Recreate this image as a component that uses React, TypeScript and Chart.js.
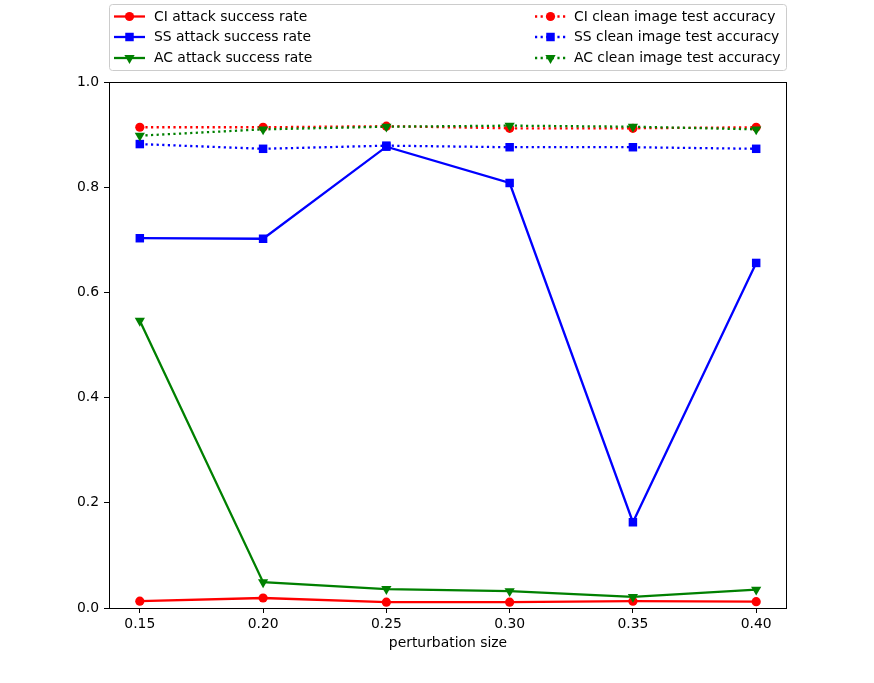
import { useEffect, useRef } from "react";
import { Chart, registerables, type Plugin } from "chart.js";

Chart.register(...registerables);

const perturbation = [0.15, 0.2, 0.25, 0.3, 0.35, 0.4];
const xTicks = [0.15, 0.2, 0.25, 0.3, 0.35, 0.4];
const yTicks = [0, 0.2, 0.4, 0.6, 0.8, 1.0];

const ciAttack = [0.013, 0.019, 0.011, 0.011, 0.013, 0.012];
const ssAttack = [0.703, 0.702, 0.877, 0.808, 0.163, 0.656];
const acAttack = [0.546, 0.049, 0.036, 0.032, 0.021, 0.035];
const ciClean = [0.914, 0.914, 0.916, 0.912, 0.912, 0.914];
const ssClean = [0.882, 0.873, 0.879, 0.876, 0.876, 0.873];
const acClean = [0.898, 0.910, 0.915, 0.917, 0.915, 0.910];

const FONT = "'DejaVu Sans', sans-serif";
const FONT_SIZE = 13.9;

type Series = {
  label: string;
  values: number[];
  color: string;
  marker: "circle" | "rect" | "triangle";
  dotted: boolean;
};

const series: Series[] = [
  { label: "CI attack success rate", values: ciAttack, color: "#ff0000", marker: "circle", dotted: false },
  { label: "SS attack success rate", values: ssAttack, color: "#0000ff", marker: "rect", dotted: false },
  { label: "AC attack success rate", values: acAttack, color: "#008000", marker: "triangle", dotted: false },
  { label: "CI clean image test accuracy", values: ciClean, color: "#ff0000", marker: "circle", dotted: true },
  { label: "SS clean image test accuracy", values: ssClean, color: "#0000ff", marker: "rect", dotted: true },
  { label: "AC clean image test accuracy", values: acClean, color: "#008000", marker: "triangle", dotted: true },
];

const LINE_W = 2.3;
const DOTS = [2.2, 3.4];
const RADIUS = { circle: 4.6, rect: 6, triangle: 5.9 };

function drawMarker(ctx: CanvasRenderingContext2D, s: Series, x: number, y: number) {
  ctx.fillStyle = s.color;
  ctx.beginPath();
  if (s.marker === "circle") {
    ctx.arc(x, y, RADIUS.circle, 0, Math.PI * 2);
  } else if (s.marker === "rect") {
    const h = RADIUS.rect * Math.SQRT1_2;
    ctx.rect(x - h, y - h, 2 * h, 2 * h);
  } else {
    const r = RADIUS.triangle;
    ctx.moveTo(x - r * 0.866, y - r * 0.5);
    ctx.lineTo(x + r * 0.866, y - r * 0.5);
    ctx.lineTo(x, y + r);
    ctx.closePath();
  }
  ctx.fill();
}

const framePlugin: Plugin = {
  id: "frame",
  afterDraw(chart) {
    const { ctx, chartArea } = chart;
    ctx.save();
    ctx.strokeStyle = "#000";
    ctx.lineWidth = 1;
    ctx.strokeRect(
      Math.round(chartArea.left) + 0.5,
      Math.round(chartArea.top) + 0.5,
      Math.round(chartArea.width) - 1,
      Math.round(chartArea.height)
    );

    // legend
    ctx.beginPath();
    ctx.roundRect(109.5, 4.5, 677, 66, 3);
    ctx.fillStyle = "rgba(255,255,255,0.8)";
    ctx.fill();
    ctx.strokeStyle = "#cccccc";
    ctx.stroke();

    const rows = [16.5, 37, 58];
    const cols = [
      { x0: 114, x1: 145, tx: 154 },
      { x0: 535, x1: 566, tx: 574 },
    ];
    ctx.font = `${FONT_SIZE}px ${FONT}`;
    ctx.textBaseline = "middle";
    series.forEach((s, i) => {
      const col = cols[Math.floor(i / 3)];
      const y = rows[i % 3];
      ctx.strokeStyle = s.color;
      ctx.lineWidth = LINE_W;
      ctx.setLineDash(s.dotted ? DOTS : []);
      ctx.beginPath();
      ctx.moveTo(col.x0, y);
      ctx.lineTo(col.x1, y);
      ctx.stroke();
      ctx.setLineDash([]);
      drawMarker(ctx, s, (col.x0 + col.x1) / 2, y);
      ctx.fillStyle = "#000";
      ctx.fillText(s.label, col.tx, y + 0.5);
    });
    ctx.restore();
  },
};

export default function App() {
  const canvasRef = useRef<HTMLCanvasElement>(null);

  useEffect(() => {
    document.body.style.margin = "0";
    if (!canvasRef.current) return;

    const chart = new Chart(canvasRef.current, {
      type: "line",
      data: {
        datasets: series.map((s, i) => ({
          label: s.label,
          data: perturbation.map((x, j) => ({ x, y: s.values[j] })),
          borderColor: s.color,
          backgroundColor: s.color,
          borderWidth: LINE_W,
          borderDash: s.dotted ? DOTS : [],
          pointStyle: s.marker,
          pointRotation: s.marker === "triangle" ? 180 : 0,
          pointRadius: RADIUS[s.marker],
          pointBorderWidth: 0,
          pointBackgroundColor: s.color,
          fill: false,
          tension: 0,
          order: series.length - i,
        })),
      },
      options: {
        responsive: false,
        animation: false,
        devicePixelRatio: 1,
        layout: { padding: { top: 82, right: 87, left: 0, bottom: 0 } },
        plugins: {
          legend: { display: false },
          tooltip: { enabled: false },
        },
        scales: {
          x: {
            type: "linear",
            min: 0.1375,
            max: 0.4125,
            afterBuildTicks: (scale) => {
              scale.ticks = xTicks.map((value) => ({ value }));
            },
            afterFit: (scale) => {
              scale.height = 75;
            },
            grid: {
              drawOnChartArea: false,
              drawTicks: true,
              tickLength: 5,
              tickColor: "#000",
            },
            border: { display: false },
            ticks: {
              color: "#000",
              font: { family: FONT, size: FONT_SIZE },
              padding: 3,
              maxRotation: 0,
              callback: (v) => Number(v).toFixed(2),
            },
            title: {
              display: true,
              text: "perturbation size",
              color: "#000",
              font: { family: FONT, size: FONT_SIZE },
              padding: { top: 4, bottom: 31 },
            },
          },
          y: {
            type: "linear",
            min: 0,
            max: 1,
            afterBuildTicks: (scale) => {
              scale.ticks = yTicks.map((value) => ({ value }));
            },
            afterFit: (scale) => {
              scale.width = 109;
            },
            grid: {
              drawOnChartArea: false,
              drawTicks: true,
              tickLength: 5,
              tickColor: "#000",
            },
            border: { display: false },
            ticks: {
              color: "#000",
              font: { family: FONT, size: FONT_SIZE },
              padding: 5,
              callback: (v) => Number(v).toFixed(1),
            },
          },
        },
      },
      plugins: [framePlugin],
    });

    return () => chart.destroy();
  }, []);

  return (
    <div style={{ width: 874, height: 683, background: "#fff" }}>
      <canvas ref={canvasRef} width={874} height={683} />
    </div>
  );
}
